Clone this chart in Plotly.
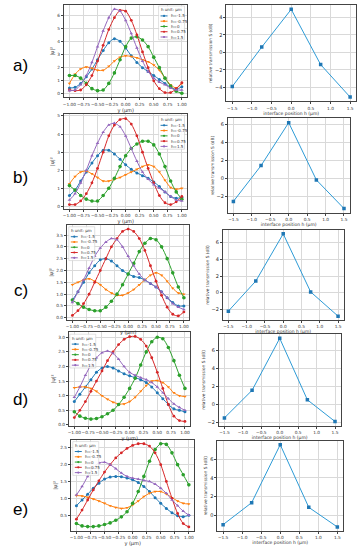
import plotly.graph_objects as go

# ---------------- data ----------------
y_um = [-1.0, -0.9, -0.8, -0.7, -0.6, -0.5, -0.4, -0.3, -0.2, -0.1, 0.0,
        0.1, 0.2, 0.3, 0.4, 0.5, 0.6, 0.7, 0.8, 0.9, 1.0]
h_labels = ["h=-1.5", "h=-0.75", "h=0", "h=0.75", "h=1.5"]
h_pos = [-1.5, -0.75, 0.0, 0.75, 1.5]

# row a)
a_m150 = [0.45, 0.5, 0.8, 1.3, 1.9, 2.6, 3.3, 3.9, 4.2, 4.0, 3.5, 2.9, 2.4, 2.0, 1.7, 1.4, 1.1, 0.8, 0.5, 0.35, 0.55]
a_m075 = [0.8, 1.5, 1.9, 2.05, 1.95, 1.8, 1.8, 2.1, 2.5, 2.8, 2.9, 2.85, 2.75, 2.6, 2.45, 2.2, 1.8, 1.2, 0.7, 0.45, 0.8]
a_0 = [1.4, 1.4, 1.2, 0.8, 0.4, 0.25, 0.3, 0.8, 1.6, 2.6, 3.6, 4.25, 4.35, 4.1, 3.6, 2.8, 2.0, 1.2, 0.6, 0.2, 0.05]
a_p075 = [0.3, 0.25, 0.3, 0.7, 1.4, 2.5, 3.7, 4.9, 5.8, 6.35, 6.3, 5.6, 4.5, 3.2, 2.0, 1.0, 0.4, 0.1, 0.1, 0.4, 0.85]
a_p150 = [0.25, 0.3, 0.7, 1.4, 2.4, 3.6, 4.8, 5.8, 6.45, 6.3, 5.6, 4.6, 3.5, 2.5, 1.7, 1.2, 0.9, 0.7, 0.45, 0.3, 0.3]

# row b)
b_m150 = [0.6, 0.9, 1.4, 1.9, 2.4, 2.8, 3.1, 3.1, 2.9, 2.6, 2.3, 2.05, 1.85, 1.7, 1.55, 1.35, 1.1, 0.8, 0.55, 0.45, 0.5]
b_m075 = [1.25, 1.65, 1.9, 1.95, 1.8, 1.6, 1.4, 1.4, 1.5, 1.6, 1.75, 1.9, 2.05, 2.2, 2.3, 2.2, 1.9, 1.45, 1.05, 0.95, 1.0]
b_0 = [1.15, 0.9, 0.6, 0.4, 0.3, 0.3, 0.6, 1.0, 1.55, 2.2, 2.8, 3.2, 3.45, 3.6, 3.6, 3.4, 2.9, 2.2, 1.4, 0.8, 0.4]
b_p075 = [0.1, 0.1, 0.3, 0.7, 1.3, 2.1, 3.0, 3.9, 4.5, 4.8, 4.85, 4.55, 3.9, 3.0, 2.1, 1.3, 0.6, 0.2, 0.1, 0.25, 0.55]
b_p150 = [0.35, 0.7, 1.3, 2.0, 2.8, 3.5, 4.1, 4.5, 4.6, 4.4, 3.9, 3.2, 2.5, 1.9, 1.5, 1.2, 1.0, 0.8, 0.55, 0.35, 0.3]

# row c)
c_m150 = [0.75, 1.1, 1.5, 1.9, 2.2, 2.45, 2.5, 2.4, 2.2, 2.0, 1.85, 1.75, 1.7, 1.6, 1.45, 1.3, 1.1, 0.85, 0.65, 0.5, 0.5]
c_m075 = [1.4, 1.5, 1.6, 1.65, 1.55, 1.4, 1.2, 1.05, 0.95, 0.95, 1.05, 1.2, 1.4, 1.6, 1.8, 1.9, 1.8, 1.55, 1.25, 1.05, 1.0]
c_0 = [0.75, 0.6, 0.45, 0.35, 0.3, 0.3, 0.45, 0.7, 1.0, 1.4, 1.85, 2.3, 2.8, 3.15, 3.35, 3.3, 3.0, 2.5, 1.9, 1.3, 0.85]
c_p075 = [0.1, 0.3, 0.6, 1.0, 1.5, 2.0, 2.5, 3.0, 3.35, 3.65, 3.75, 3.65, 3.35, 2.85, 2.2, 1.55, 0.95, 0.45, 0.15, 0.08, 0.25]
c_p150 = [0.65, 1.1, 1.6, 2.1, 2.6, 2.95, 3.2, 3.35, 3.3, 3.0, 2.6, 2.2, 1.85, 1.6, 1.45, 1.3, 1.1, 0.85, 0.6, 0.45, 0.35]

# row d)
d_m150 = [0.8, 1.05, 1.3, 1.55, 1.8, 1.95, 2.0, 1.95, 1.85, 1.75, 1.68, 1.62, 1.55, 1.45, 1.3, 1.1, 0.9, 0.7, 0.55, 0.5, 0.45]
d_m075 = [1.27, 1.3, 1.3, 1.25, 1.15, 1.0, 0.88, 0.78, 0.72, 0.72, 0.8, 0.95, 1.15, 1.35, 1.5, 1.52, 1.45, 1.3, 1.1, 1.0, 0.97]
d_0 = [0.45, 0.3, 0.23, 0.2, 0.22, 0.28, 0.38, 0.5, 0.7, 0.95, 1.25, 1.6, 2.05, 2.5, 2.85, 3.0, 2.95, 2.65, 2.2, 1.7, 1.25]
d_p075 = [0.25, 0.5, 0.8, 1.15, 1.5, 1.85, 2.2, 2.5, 2.75, 2.93, 3.02, 3.03, 2.93, 2.7, 2.3, 1.8, 1.25, 0.7, 0.3, 0.15, 0.12]
d_p150 = [0.95, 1.3, 1.7, 2.05, 2.3, 2.47, 2.53, 2.45, 2.25, 2.0, 1.8, 1.7, 1.62, 1.55, 1.45, 1.3, 1.1, 0.9, 0.72, 0.6, 0.5]

# row e)
e_m150 = [0.78, 0.95, 1.12, 1.3, 1.45, 1.57, 1.63, 1.65, 1.64, 1.6, 1.55, 1.47, 1.35, 1.2, 1.02, 0.85, 0.7, 0.57, 0.48, 0.45, 0.5]
e_m075 = [1.08, 1.07, 1.03, 0.98, 0.92, 0.85, 0.78, 0.73, 0.7, 0.72, 0.8, 0.92, 1.05, 1.15, 1.2, 1.2, 1.13, 1.02, 0.92, 0.85, 0.83]
e_0 = [0.25, 0.18, 0.16, 0.16, 0.18, 0.22, 0.27, 0.35, 0.45, 0.6, 0.85, 1.2, 1.65, 2.1, 2.45, 2.62, 2.6, 2.35, 2.0, 1.7, 1.4]
e_p075 = [0.38, 0.65, 0.95, 1.25, 1.52, 1.78, 2.0, 2.2, 2.35, 2.48, 2.57, 2.62, 2.62, 2.55, 2.35, 2.0, 1.5, 1.0, 0.55, 0.25, 0.15]
e_p150 = [1.1, 1.35, 1.65, 1.9, 2.05, 2.07, 2.0, 1.88, 1.75, 1.65, 1.6, 1.57, 1.53, 1.5, 1.42, 1.3, 1.15, 0.95, 0.78, 0.62, 0.5]

# relative transmission S (dB) vs interface position h
S_a = [-3.9, 0.6, 4.9, -1.4, -5.1]
S_b = [-2.6, 1.4, 6.2, -0.2, -3.4]
S_c = [-2.2, 1.4, 7.05, 0.1, -2.8]
S_d = [-1.5, 1.55, 7.3, 0.5, -1.9]
S_e = [-1.0, 1.35, 7.55, 0.85, -1.25]

panel_labels = ["a)", "b)", "c)", "d)", "e)"]
left_ytick_step = [1, 1, 0.5, 0.5, 0.5]
left_ytick_fmt = [".0f", ".0f", ".1f", ".1f", ".1f"]
legend_title = "h unit: μm"

# ---------------- styling ----------------
W, H = 360, 550
colors = ["#1f77b4", "#ff7f0e", "#2ca02c", "#d62728", "#9467bd"]
symbols = ["circle", "triangle-down", "circle", "circle", "triangle-up"]
msizes = [3, 3, 3.6, 2.8, 3.2]

rows = [
    [a_m150, a_m075, a_0, a_p075, a_p150],
    [b_m150, b_m075, b_0, b_p075, b_p150],
    [c_m150, c_m075, c_0, c_p075, c_p150],
    [d_m150, d_m075, d_0, d_p075, d_p150],
    [e_m150, e_m075, e_0, e_p075, e_p150],
]
S_rows = [S_a, S_b, S_c, S_d, S_e]

# pixel boxes (x0, x1, y0, y1) of plot frames
left_boxes = [(63, 187, 4, 97), (63, 187, 114, 209), (66, 189, 225, 321),
              (68, 190, 333, 427), (70, 194, 441, 533)]
right_boxes = [(226, 356, 4, 101), (227.5, 349.5, 118, 213), (222.5, 343.5, 230, 321),
               (218.5, 340.5, 335, 427), (217, 343, 442, 533)]
legend_box = [(158, 5), (158, 115), (68, 227), (69, 335), (72, 443)]
label_y = [65, 177, 291, 401, 511]


def px_x(v):
    return v / W


def px_y(v):
    return 1 - v / H


def pad_range(vals, frac=0.05):
    lo, hi = min(vals), max(vals)
    span = hi - lo
    return [lo - frac * span, hi + frac * span]


fig = go.Figure()
layout = dict(width=W, height=H, margin=dict(l=0, r=0, t=0, b=0),
              paper_bgcolor="white", plot_bgcolor="white", showlegend=False,
              font=dict(family="DejaVu Sans", size=5, color="#333"))

axis_common = dict(showline=True, linecolor="#444", linewidth=0.8, mirror=True,
                   showgrid=True, gridcolor="#d9d9d9", gridwidth=0.6,
                   zeroline=False, ticks="outside", ticklen=2, tickcolor="#444",
                   tickangle=0, tickfont=dict(size=4.3, color="#333"),
                   ticklabeloverflow="allow")

annotations = []
shapes = []
for r in range(5):
    li = 2 * r + 1
    ri = 2 * r + 2
    lx0, lx1, ly0, ly1 = left_boxes[r]
    rx0, rx1, ry0, ry1 = right_boxes[r]

    allv = [v for s in rows[r] for v in s]
    for k in range(5):
        fig.add_trace(go.Scatter(
            x=y_um, y=rows[r][k], mode="lines+markers", name=h_labels[k],
            line=dict(color=colors[k], width=1, shape="spline", smoothing=0.8),
            marker=dict(color=colors[k], size=msizes[k], symbol=symbols[k]),
            xaxis="x%d" % li, yaxis="y%d" % li))

    fig.add_trace(go.Scatter(
        x=h_pos, y=S_rows[r], mode="lines+markers",
        line=dict(color="#2e9bd6", width=1),
        marker=dict(color="#1f77b4", size=3.5, symbol="square"),
        xaxis="x%d" % ri, yaxis="y%d" % ri))

    layout["xaxis%d" % li] = dict(axis_common, domain=[px_x(lx0), px_x(lx1)],
                                   anchor="y%d" % li, range=[-1.1, 1.1],
                                   tickmode="linear", tick0=-1, dtick=0.25, tickformat=".2f",
                                   title=dict(text="y (μm)", font=dict(size=5), standoff=1))
    layout["yaxis%d" % li] = dict(axis_common, domain=[px_y(ly1), px_y(ly0)],
                                   anchor="x%d" % li, range=pad_range(allv),
                                   tickmode="linear", tick0=0, dtick=left_ytick_step[r],
                                   tickformat=left_ytick_fmt[r],
                                   title=dict(text="|ψ|²", font=dict(size=5), standoff=2))
    layout["xaxis%d" % ri] = dict(axis_common, domain=[px_x(rx0), px_x(rx1)],
                                   anchor="y%d" % ri, range=[-1.65, 1.65],
                                   tickmode="linear", tick0=-1.5, dtick=0.5, tickformat=".1f",
                                   title=dict(text="interface position h (μm)", font=dict(size=4.5), standoff=1))
    layout["yaxis%d" % ri] = dict(axis_common, domain=[px_y(ry1), px_y(ry0)],
                                   anchor="x%d" % ri, range=pad_range(S_rows[r]),
                                   tickmode="linear", tick0=0, dtick=2,
                                   showticklabels=True, side="left",
                                   tickfont=dict(size=5, color="#222"),
                                   title=dict(text="relative transmission S (dB)", font=dict(size=4.3), standoff=2))

    # compact matplotlib-style legend
    gx, gy = legend_box[r]
    bw, bh = 26, 34
    shapes.append(dict(type="rect", xref="paper", yref="paper",
                       x0=px_x(gx), x1=px_x(gx + bw), y0=px_y(gy + bh), y1=px_y(gy),
                       fillcolor="rgba(255,255,255,0.85)", line=dict(color="#cccccc", width=0.6)))
    annotations.append(dict(text=legend_title, x=px_x(gx + bw / 2), y=px_y(gy + 4),
                            xref="paper", yref="paper", showarrow=False,
                            xanchor="center", yanchor="middle",
                            font=dict(size=4, color="#333")))
    for k in range(5):
        yy = gy + 10 + 5.3 * k
        shapes.append(dict(type="line", xref="paper", yref="paper",
                           x0=px_x(gx + 2), x1=px_x(gx + 9), y0=px_y(yy), y1=px_y(yy),
                           line=dict(color=colors[k], width=1)))
        shapes.append(dict(type="circle", xref="paper", yref="paper",
                           x0=px_x(gx + 4.4), x1=px_x(gx + 6.6), y0=px_y(yy + 1.1), y1=px_y(yy - 1.1),
                           fillcolor=colors[k], line=dict(color=colors[k], width=0)))
        annotations.append(dict(text=h_labels[k], x=px_x(gx + 10.5), y=px_y(yy),
                                xref="paper", yref="paper", showarrow=False,
                                xanchor="left", yanchor="middle",
                                font=dict(size=4, color="#333")))

    annotations.append(dict(text=panel_labels[r], x=px_x(20), y=px_y(label_y[r]),
                            xref="paper", yref="paper", showarrow=False,
                            xanchor="center", yanchor="middle",
                            font=dict(size=17, family="Liberation Sans", color="black")))

layout["annotations"] = annotations
layout["shapes"] = shapes
fig.update_layout(**layout)
fig.write_html("out.html", config={"displayModeBar": False},
               post_script="document.body.style.margin='0px';document.body.style.overflow='hidden';")
